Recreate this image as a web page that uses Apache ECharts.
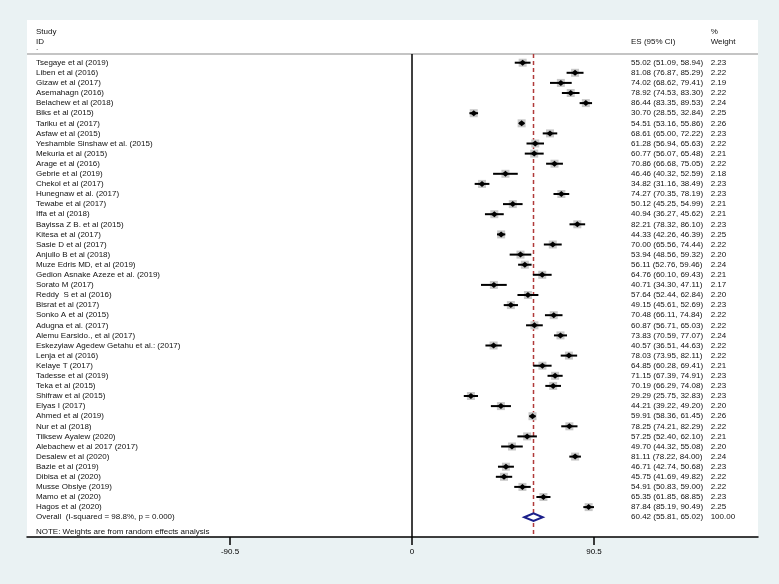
<!DOCTYPE html>
<html>
<head>
<meta charset="utf-8">
<script src="https://cdn.jsdelivr.net/npm/echarts@6/dist/echarts.min.js"></script>
<style>
html,body{margin:0;padding:0;background:#eaf2f3;}
#c{width:779px;height:584px;}
</style>
</head>
<body>
<div id="c"></div>
<script>
const studies = ["Tsegaye et al (2019)","Liben et al (2016)","Gizaw et al (2017)","Asemahagn (2016)","Belachew et al (2018)","Biks et al (2015)","Tariku et al (2017)","Asfaw et al (2015)","Yeshamble Sinshaw et al. (2015)","Mekuria et al (2015)","Arage et al (2016)","Gebrie et al (2019)","Chekol et al (2017)","Hunegnaw et al. (2017)","Tewabe et al (2017)","Iffa et al (2018)","Bayissa Z B. et al (2015)","Kitesa et al (2017)","Sasie D et al (2017)","Anjullo B et al (2018)","Muze Edris MD, et al (2019)","Gedion Asnake Azeze et al. (2019)","Sorato M (2017)","Reddy  S et al (2016)","Bisrat et al (2017)","Sonko A et al (2015)","Adugna et al. (2017)","Alemu Earsido., et al (2017)","Eskezyiaw Agedew Getahu et al.: (2017)","Lenja et al (2016)","Kelaye T (2017)","Tadesse et al (2019)","Teka et al (2015)","Shifraw et al (2015)","Elyas I (2017)","Ahmed et al (2019)","Nur et al (2018)","Tilksew Ayalew (2020)","Alebachew et al 2017 (2017)","Desalew et al (2020)","Bazie et al (2019)","Dibisa et al (2020)","Musse Obsiye (2019)","Mamo et al (2020)","Hagos et al (2020)"];
const es = [55.02,81.08,74.02,78.92,86.44,30.70,54.51,68.61,61.28,60.77,70.86,46.46,34.82,74.27,50.12,40.94,82.21,44.33,70.00,53.94,56.11,64.76,40.71,57.64,49.15,70.48,60.87,73.83,40.57,78.03,64.85,71.15,70.19,29.29,44.21,59.91,78.25,57.25,49.70,81.11,46.71,45.75,54.91,65.35,87.84];
const lo = [51.09,76.87,68.62,74.53,83.35,28.55,53.16,65.00,56.94,56.07,66.68,40.32,31.16,70.35,45.25,36.27,78.32,42.26,65.56,48.56,52.76,60.10,34.30,52.44,45.61,66.11,56.71,70.59,36.51,73.95,60.28,67.39,66.29,25.75,39.22,58.36,74.21,52.40,44.32,78.22,42.74,41.69,50.83,61.85,85.19];
const hi = [58.94,85.29,79.41,83.30,89.53,32.84,55.86,72.22,65.63,65.48,75.05,52.59,38.49,78.19,54.99,45.62,86.10,46.39,74.44,59.32,59.46,69.43,47.11,62.84,52.69,74.84,65.03,77.07,44.63,82.11,69.41,74.91,74.08,32.83,49.20,61.45,82.29,62.10,55.08,84.00,50.68,49.82,59.00,68.85,90.49];
const weights = ["2.23","2.22","2.19","2.22","2.24","2.25","2.26","2.23","2.22","2.21","2.22","2.18","2.23","2.23","2.21","2.21","2.23","2.25","2.22","2.20","2.24","2.21","2.17","2.20","2.23","2.22","2.22","2.24","2.22","2.22","2.21","2.23","2.23","2.23","2.20","2.26","2.22","2.21","2.20","2.24","2.23","2.22","2.22","2.23","2.25"];
const overallLabel = "Overall  (I-squared = 98.8%, p = 0.000)";
const overall = {es:60.42, lo:55.81, hi:65.02, weight:"100.00"};
const noteText = "NOTE: Weights are from random effects analysis";
const tickValues = [-90.5, 0, 90.5];

const FONT = '8px "Liberation Sans", Arial, sans-serif';
const COL_STUDY = -187, COL_ES = 108.9, COL_W = 148.5;
const X_MIN = -191.45, X_MAX = 172.05, Y_MIN = -3.228, Y_MAX = 47.96;
const HEADER_ROW = 0.14;
const n = studies.length;
const overallRow = n + 1;

function f2(v){return v.toFixed(2);}

// text items: [x, row, text]
const texts = [];
texts.push([COL_STUDY, -2.05, "Study"]);
texts.push([COL_STUDY, -1.05, "ID"]);
texts.push([COL_STUDY, -0.5, "."]);
texts.push([COL_ES, -1.05, "ES (95% CI)"]);
texts.push([COL_W, -2.05, "%"]);
texts.push([COL_W, -1.05, "Weight"]);
for (let i=0;i<n;i++){
  texts.push([COL_STUDY, i+1, studies[i]]);
  texts.push([COL_ES, i+1, f2(es[i])+" ("+f2(lo[i])+", "+f2(hi[i])+")"]);
  texts.push([COL_W, i+1, weights[i]]);
}
texts.push([COL_STUDY, overallRow, overallLabel]);
texts.push([COL_ES, overallRow, f2(overall.es)+" ("+f2(overall.lo)+", "+f2(overall.hi)+")"]);
texts.push([COL_W, overallRow, overall.weight]);
texts.push([COL_STUDY, 47.45, noteText]);

const studyData = es.map((v,i)=>[v, lo[i], hi[i], i+1]);

const chart = echarts.init(document.getElementById('c'), null, {renderer:'canvas'});
chart.setOption({
  backgroundColor:'#eaf2f3',
  animation:false,
  grid:{left:27, right:21, top:20, bottom:47, show:true, backgroundColor:'#ffffff', borderWidth:0},
  xAxis:{type:'value', min:X_MIN, max:X_MAX, splitLine:{show:false},
    axisLine:{show:true, onZero:false, lineStyle:{color:'#000', width:1.5}},
    axisTick:{show:true, customValues:tickValues, length:8, lineStyle:{color:'#000', width:1.5}},
    axisLabel:{show:true, customValues:tickValues, margin:11, color:'#000', fontSize:8, fontFamily:'"Liberation Sans", Arial, sans-serif',
      formatter:function(v){return String(v);}}},
  yAxis:{type:'value', inverse:true, min:Y_MIN, max:Y_MAX, show:false},
  series:[
    {type:'custom', silent:true, data:[[0]], z:1,
      renderItem:function(params, api){
        const a = api.coord([X_MIN, HEADER_ROW]), b = api.coord([X_MAX, HEADER_ROW]);
        const z0 = api.coord([0, HEADER_ROW]), z1 = api.coord([0, Y_MAX]);
        const d0 = api.coord([overall.es, HEADER_ROW]), d1 = api.coord([overall.es, Y_MAX]);
        return {type:'group', children:[
          {type:'line', shape:{x1:a[0], y1:a[1], x2:b[0], y2:b[1]}, style:{stroke:'#c4c4c4', lineWidth:2}},
          {type:'line', shape:{x1:z0[0], y1:z0[1], x2:z1[0], y2:z1[1]}, style:{stroke:'#000', lineWidth:1.5}},
          {type:'line', shape:{x1:d0[0], y1:d0[1], x2:d1[0], y2:d1[1]}, style:{stroke:'#b03a3a', lineWidth:1.5, lineDash:[4,3]}}
        ]};
      }},
    {type:'custom', silent:true, data:studyData, z:3,
      renderItem:function(params, api){
        const p = api.coord([api.value(0), api.value(3)]);
        const l = api.coord([api.value(1), api.value(3)]);
        const h = api.coord([api.value(2), api.value(3)]);
        const x=p[0], y=p[1];
        return {type:'group', children:[
          {type:'rect', shape:{x:x-4, y:y-4, width:8, height:8}, style:{fill:'#c8c8c8'}},
          {type:'line', shape:{x1:l[0], y1:y, x2:h[0], y2:y}, style:{stroke:'#000', lineWidth:2}},
          {type:'polygon', shape:{points:[[x-3.5,y],[x,y-3],[x+3.5,y],[x,y+3]]}, style:{fill:'#000'}}
        ]};
      }},
    {type:'custom', silent:true, data:[[overall.es, overall.lo, overall.hi, overallRow]], z:4,
      renderItem:function(params, api){
        const p = api.coord([api.value(0), api.value(3)]);
        const l = api.coord([api.value(1), api.value(3)]);
        const h = api.coord([api.value(2), api.value(3)]);
        const y = p[1];
        return {type:'polygon', shape:{points:[[l[0],y],[p[0],y-3.8],[h[0],y],[p[0],y+3.8]]}, style:{fill:'#fff', stroke:'#1b1f8a', lineWidth:2}};
      }},
    {type:'custom', silent:true, data:texts, z:5,
      renderItem:function(params, api){
        const t = texts[params.dataIndex];
        const p = api.coord([t[0], t[1]]);
        return {type:'text', style:{text:t[2], x:p[0], y:p[1], fill:'#111', font:FONT, verticalAlign:'middle', align:'left'}};
      }}
  ]
});
</script>
</body>
</html>
